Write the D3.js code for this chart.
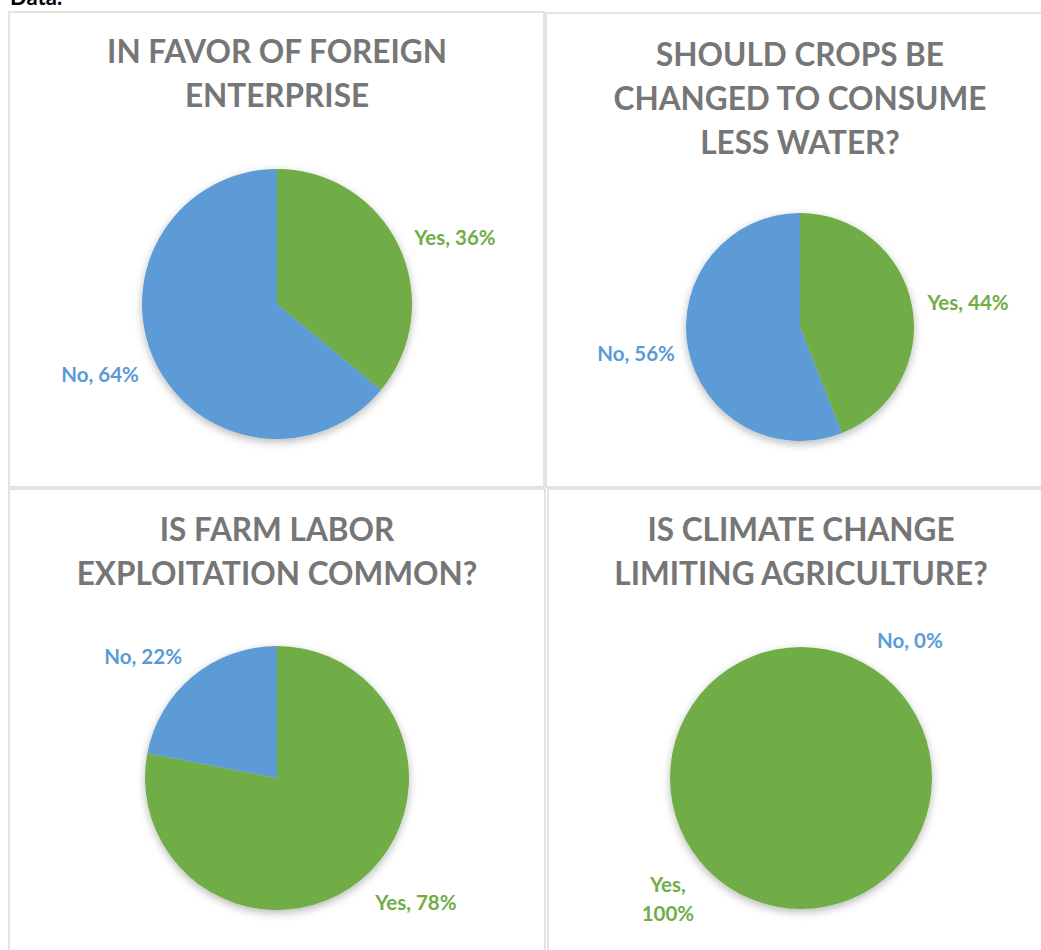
<!DOCTYPE html>
<html>
<head>
<meta charset="utf-8">
<script src="https://cdn.jsdelivr.net/npm/d3@7"></script>
<style>
 body { margin: 0; background: #fff; }
 svg { display: block; font-family: Lato, "Open Sans", sans-serif; }
</style>
</head>
<body>
<svg id="chart"></svg>
<script>
// data
const titles = [
 ["IN FAVOR OF FOREIGN", "ENTERPRISE"],
 ["SHOULD CROPS BE", "CHANGED TO CONSUME", "LESS WATER?"],
 ["IS FARM LABOR", "EXPLOITATION COMMON?"],
 ["IS CLIMATE CHANGE", "LIMITING AGRICULTURE?"]
];
const categories = ["Yes", "No"];
const yesValues = [36, 44, 78, 100];
const noValues = [64, 56, 22, 0];

// layout
const width = 1041, height = 950;
const boxes = [
 {x: 9, y: 12, w: 535, h: 475},
 {x: 546, y: 13, w: 520, h: 474},
 {x: 9, y: 489, w: 536, h: 480},
 {x: 548, y: 489, w: 520, h: 480}
];
const pies = [
 {cx: 277, cy: 304, r: 135, titleY: 63},
 {cx: 800, cy: 327, r: 114, titleY: 66},
 {cx: 277, cy: 778, r: 132, titleY: 541},
 {cx: 801, cy: 778, r: 131, titleY: 541}
];
// label placement like excel "best fit": angle (deg from 12 o'clock) and distance in radii
const labelFit = [
 [{a: 69.7, k: 1.406}, {a: 248.1, k: 1.413}],
 [{a: 81.9, k: 1.489}, {a: 260.6, k: 1.458}],
 [{a: 132.0, k: 1.416}, {a: 312.1, k: 1.367}],
 [{a: 227.5, k: 1.378, wrap: true}, {a: 38.5, k: 1.336}]
];
const colors = {Yes: "#70ad47", No: "#5b9bd5"};

let svg = d3.select("#chart").attr("width", width).attr("height", height);

let defs = svg.append("defs");
let f = defs.append("filter").attr("id", "shadow")
 .attr("x", "-20%").attr("y", "-20%").attr("width", "140%").attr("height", "140%");
f.append("feDropShadow").attr("dx", 0).attr("dy", 3).attr("stdDeviation", 4)
 .attr("flood-color", "#000").attr("flood-opacity", 0.28);

// cut-off heading above the table
svg.append("text").attr("x", 10).attr("y", 5)
 .attr("font-size", 22).attr("font-weight", 700).attr("fill", "#000")
 .text("Data:");

// cell borders
svg.selectAll("rect.cell")
 .data(boxes)
 .enter()
 .append("rect")
 .attr("class", "cell")
 .attr("x", d => d.x)
 .attr("y", d => d.y)
 .attr("width", d => d.w)
 .attr("height", d => d.h)
 .attr("fill", "#fff")
 .attr("stroke", "#dadada")
 .attr("stroke-width", 1.5);

let pie = d3.pie().sort(null).value(d => d.value);

pies.forEach(function(p, i) {
 let g = svg.append("g");

 // title
 g.selectAll("text.title")
  .data(titles[i])
  .enter()
  .append("text")
  .attr("x", p.cx)
  .attr("y", (d, j) => p.titleY + j * 44)
  .attr("text-anchor", "middle")
  .attr("font-size", 31.5)
  .attr("font-weight", 700)
  .attr("fill", "#767676")
  .text(d => d);

 let data = categories.map((c, j) => ({
  name: c,
  value: j == 0 ? yesValues[i] : noValues[i]
 }));
 let arcs = pie(data);
 let arc = d3.arc().innerRadius(0).outerRadius(p.r);

 let pg = g.append("g")
  .attr("transform", `translate(${p.cx}, ${p.cy})`);

 pg.append("g").attr("filter", "url(#shadow)")
  .selectAll("path")
  .data(arcs.filter(d => d.value > 0))
  .enter()
  .append("path")
  .attr("d", arc)
  .attr("fill", d => colors[d.data.name]);

 // data labels
 arcs.forEach(function(d, j) {
  let fit = labelFit[i][j];
  let a = fit.a * Math.PI / 180;
  let lx = Math.sin(a) * p.r * fit.k;
  let ly = -Math.cos(a) * p.r * fit.k;
  let lines = fit.wrap ? [d.data.name + ",", d.data.value + "%"]
   : [d.data.name + ", " + d.data.value + "%"];
  pg.append("text")
   .attr("text-anchor", "middle")
   .attr("font-size", 20.5)
   .attr("font-weight", 700)
   .attr("fill", colors[d.data.name])
   .selectAll("tspan")
   .data(lines)
   .enter()
   .append("tspan")
   .attr("x", lx)
   .attr("y", (t, m) => ly + 7 + (m - (lines.length - 1) / 2) * 29)
   .text(t => t);
 });
});
</script>
</body>
</html>
